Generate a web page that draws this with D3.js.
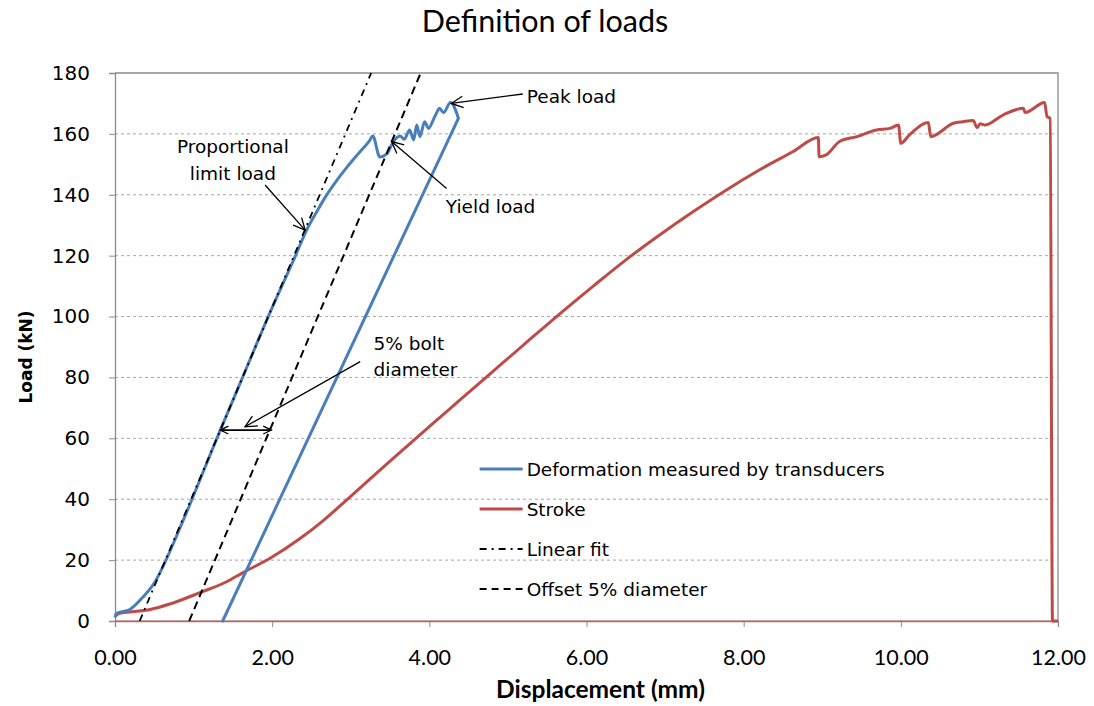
<!DOCTYPE html>
<html>
<head>
<meta charset="utf-8">
<script src="https://cdn.jsdelivr.net/npm/d3@7"></script>
<style>
  body { margin: 0; background: #fff; }
  svg text { fill: #000; }
</style>
</head>
<body>
<div id="chart"></div>
<script>
let width = 1094;
let height = 706;
let margin = {top: 73, right: 36, bottom: 85, left: 115};
let colorBlue = "#4a7ebb";
let colorRed = "#be4b48";
let wideFont = "'DejaVu Sans', sans-serif";
let narrowFont = "Lato, sans-serif";

// x ticks (mm) and y ticks (kN)
let xTicks = [0, 2, 4, 6, 8, 10, 12];
let yTicks = [0, 20, 40, 60, 80, 100, 120, 140, 160, 180];

// deformation measured by transducers: [displacement mm, load kN]
let transducerLoad = [
    [0.00, 1.2], [0.02, 2.5], [0.19, 3.8], [0.36, 8.0], [0.51, 12.9], [0.59, 16.8],
    [0.87, 33.2], [1.34, 62.7], [1.61, 79.2], [1.95, 100.0], [2.29, 119.6], [2.44, 128.5],
    [2.58, 135.0], [2.70, 140.2], [2.83, 145.0], [2.95, 149.0], [3.10, 153.6], [3.24, 157.8],
    [3.28, 159.3], [3.37, 152.4], [3.46, 153.4], [3.54, 157.4], [3.63, 159.3], [3.68, 158.2],
    [3.75, 161.3], [3.80, 158.0], [3.84, 162.9], [3.88, 159.1], [3.94, 164.0], [3.99, 161.8],
    [4.05, 164.6], [4.09, 166.8], [4.13, 168.4], [4.18, 167.0], [4.27, 170.3], [4.37, 165.1]
];
let transducerUnload = [[4.37, 165.1], [1.37, 0]];

// stroke of the testing machine
let stroke = [
    [0.00, 1.5], [0.06, 2.5], [0.25, 3.1], [0.45, 3.8], [0.70, 5.6], [1.08, 9.3], [1.42, 12.9],
    [1.63, 15.9], [2.00, 21.0], [2.35, 27.0], [2.65, 33.0], [2.95, 39.8], [3.50, 52.5], [4.05, 65.0],
    [4.39, 72.6], [4.81, 82.0], [5.24, 91.6], [5.66, 100.9], [6.09, 110.1], [6.51, 118.8],
    [6.93, 126.8], [7.36, 134.5], [7.78, 141.6], [8.21, 148.3], [8.63, 154.2], [8.95, 158.8],
    [8.96, 152.5], [9.05, 153.1], [9.22, 157.5], [9.44, 159.1], [9.69, 161.3], [9.86, 161.8],
    [9.97, 162.9], [10.00, 156.9], [10.11, 159.7], [10.35, 163.7], [10.38, 159.1], [10.67, 163.5],
    [10.79, 164.0], [10.92, 164.4], [10.97, 162.1], [11.01, 163.3], [11.07, 162.9], [11.30, 166.2],
    [11.56, 168.4], [11.58, 167.0], [11.83, 170.3], [11.86, 165.7], [11.90, 165.1], [11.93, 0],
    [12.00, 0]
];
let strokeBase = [[0, 0], [12, 0]];

// linear fit and offset (5% diameter) lines
let linearFit = [[0.314, 0], [3.26, 180]];
let offsetLine = [[0.944, 0], [3.89, 180]];

// legend entries
let legendLabels = ["Deformation measured by transducers", "Stroke", "Linear fit", "Offset 5% diameter"];
let legendColors = [colorBlue, colorRed, "#000", "#000"];
let legendDash = [null, null, "7,5,2,5", "7,5"];

// annotations: text in data units, arrow from -> to
let notes = [
    {lines: ["Proportional", "limit load"], at: [1.50, 155.7], anchor: "middle", from: [1.91, 143.2], to: [2.42, 128.4]},
    {lines: ["Peak load"], at: [5.24, 172.2], anchor: "start", from: [5.19, 173.1], to: [4.28, 170.0]},
    {lines: ["Yield load"], at: [4.21, 136.0], anchor: "start", from: [4.22, 142.1], to: [3.52, 157.5]},
    {lines: ["5% bolt", "diameter"], at: [3.29, 91.2], anchor: "start", from: [3.12, 85.2], to: [1.654, 63.8]}
];
let spanArrow = {load: 62.7, from: 1.34, to: 1.99};

let svg = d3.select("#chart").append("svg")
    .attr("width", width)
    .attr("height", height);

let x = d3.scaleLinear().domain([0, 12]).range([margin.left, width - margin.right]);
let y = d3.scaleLinear().domain([0, 180]).range([height - margin.bottom, margin.top]);

// gridlines
svg.append("g")
    .selectAll("line")
    .data(yTicks.filter(d => d > 0 && d < 180))
    .join("line")
    .attr("x1", x(0)).attr("x2", x(12))
    .attr("y1", d => y(d)).attr("y2", d => y(d))
    .attr("stroke", "#a6a6a6")
    .attr("stroke-dasharray", "3,3")
    .attr("stroke-width", 1);

// frame top/right
svg.append("path")
    .attr("d", `M${x(0)},${y(180)}H${x(12)}V${y(0)}`)
    .attr("fill", "none")
    .attr("stroke", "#8c8c8c")
    .attr("stroke-width", 1.3);

// axes
let xAxis = svg.append("g")
    .attr("transform", `translate(0,${y(0)})`)
    .call(d3.axisBottom(x).tickValues(xTicks).tickSize(6).tickPadding(23).tickFormat(d3.format(".2f")));
let yAxis = svg.append("g")
    .attr("transform", `translate(${x(0)},0)`)
    .call(d3.axisLeft(y).tickValues(yTicks).tickSize(6).tickPadding(19));
[xAxis, yAxis].forEach(a => {
    a.select(".domain").attr("stroke", "#8c8c8c").attr("stroke-width", 1.3);
    a.selectAll(".tick line").attr("stroke", "#8c8c8c");
});
xAxis.selectAll("text").attr("font-family", narrowFont).attr("font-size", 21.5).attr("fill", "#000");
yAxis.selectAll("text").attr("font-family", wideFont).attr("font-size", 20).attr("fill", "#000");

let line = d3.line().x(d => x(d[0])).y(d => y(d[1]));
let smooth = d3.line().x(d => x(d[0])).y(d => y(d[1])).curve(d3.curveMonotoneX);

// data lines
svg.append("path").datum(strokeBase)
    .attr("d", line).attr("fill", "none")
    .attr("stroke", colorRed).attr("stroke-opacity", 0.6).attr("stroke-width", 1.5);
svg.append("path").datum(stroke)
    .attr("d", smooth).attr("fill", "none")
    .attr("stroke", colorRed).attr("stroke-width", 3).attr("stroke-linejoin", "round");
svg.append("path").datum(transducerLoad)
    .attr("d", smooth).attr("fill", "none")
    .attr("stroke", colorBlue).attr("stroke-width", 3).attr("stroke-linejoin", "round");
svg.append("path").datum(transducerUnload)
    .attr("d", line).attr("fill", "none")
    .attr("stroke", colorBlue).attr("stroke-width", 3).attr("stroke-linecap", "round");
svg.append("path").datum(linearFit)
    .attr("d", line).attr("fill", "none")
    .attr("stroke", "#000").attr("stroke-width", 1.8).attr("stroke-dasharray", legendDash[2]);
svg.append("path").datum(offsetLine)
    .attr("d", line).attr("fill", "none")
    .attr("stroke", "#000").attr("stroke-width", 2).attr("stroke-dasharray", "8,5");

// arrow helper: open V head at the end point
function arrowHead(g, x1, y1, x2, y2, size) {
    let a = Math.atan2(y2 - y1, x2 - x1);
    let s = size || 11, w = 0.45;
    g.append("path")
        .attr("d", `M${x2 - s * Math.cos(a - w)},${y2 - s * Math.sin(a - w)}L${x2},${y2}L${x2 - s * Math.cos(a + w)},${y2 - s * Math.sin(a + w)}`)
        .attr("fill", "none").attr("stroke", "#000").attr("stroke-width", 1.3);
}

let ann = svg.append("g");
notes.forEach(n => {
    let t = ann.append("text")
        .attr("x", x(n.at[0]))
        .attr("y", y(n.at[1]))
        .attr("text-anchor", n.anchor)
        .attr("font-family", wideFont)
        .attr("font-size", 18.5);
    n.lines.forEach((l, i) => {
        t.append("tspan")
            .attr("x", x(n.at[0]))
            .attr("dy", i === 0 ? "0.35em" : "1.42em")
            .text(l);
    });
    let [x1, y1, x2, y2] = [x(n.from[0]), y(n.from[1]), x(n.to[0]), y(n.to[1])];
    ann.append("line")
        .attr("x1", x1).attr("y1", y1).attr("x2", x2).attr("y2", y2)
        .attr("stroke", "#000").attr("stroke-width", 1.3);
    arrowHead(ann, x1, y1, x2, y2, 13);
});

// double arrow showing offset
{
    let yy = y(spanArrow.load), xa = x(spanArrow.from), xb = x(spanArrow.to);
    ann.append("line")
        .attr("x1", xa).attr("x2", xb).attr("y1", yy).attr("y2", yy)
        .attr("stroke", "#000").attr("stroke-width", 1.6);
    arrowHead(ann, xb, yy, xa, yy, 9);
    arrowHead(ann, xa, yy, xb, yy, 9);
}

// legend
let legend = svg.append("g")
    .attr("transform", `translate(${x(4.64)},${y(49.9)})`);
legendLabels.forEach((l, i) => {
    let row = legend.append("g").attr("transform", `translate(0,${i * 40})`);
    row.append("line")
        .attr("x1", 0).attr("x2", 43)
        .attr("stroke", legendColors[i])
        .attr("stroke-width", i < 2 ? 3 : 2)
        .attr("stroke-dasharray", legendDash[i]);
    row.append("text")
        .attr("x", 47)
        .attr("dy", "0.35em")
        .attr("font-family", wideFont)
        .attr("font-size", 18.5)
        .text(l);
});

// titles
svg.append("text")
    .attr("x", 545).attr("y", 32)
    .attr("text-anchor", "middle")
    .attr("font-family", "Lato, sans-serif")
    .attr("font-size", 30.5)
    .text("Definition of loads");

svg.append("text")
    .attr("x", (x(0) + x(12)) / 2 + 14).attr("y", 698)
    .attr("text-anchor", "middle")
    .attr("font-family", "Lato, sans-serif")
    .attr("font-weight", "bold")
    .attr("font-size", 24.5)
    .text("Displacement (mm)");

svg.append("text")
    .attr("transform", `translate(32,${(y(0) + y(180)) / 2 + 10}) rotate(-90)`)
    .attr("text-anchor", "middle")
    .attr("font-family", wideFont)
    .attr("font-weight", "bold")
    .attr("font-size", 17)
    .text("Load (kN)");
</script>
</body>
</html>
